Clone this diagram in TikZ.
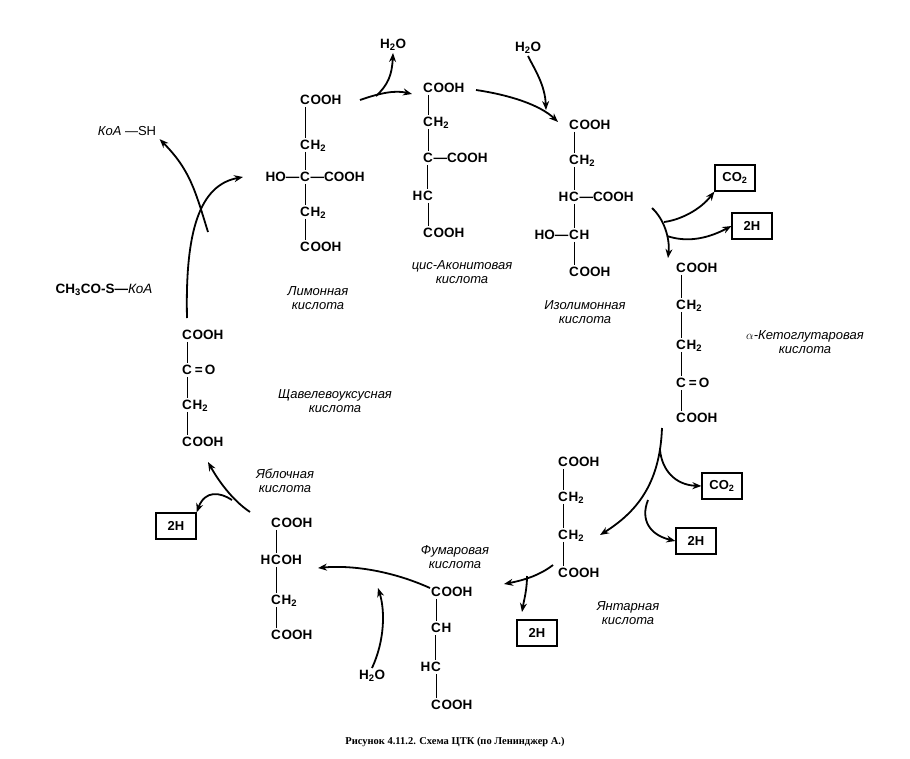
\documentclass[tikz,border=0pt]{standalone}
\usepackage{fontspec}
\setmainfont{Liberation Sans}
\newfontfamily\capf{Liberation Serif}
\usetikzlibrary{arrows.meta}
\begin{document}
\begin{tikzpicture}[x=1pt,y=-1pt,
 f/.style={font=\bfseries\fontsize{13.5}{14}\selectfont,inner xsep=0.3pt,inner ysep=2pt},
 nm/.style={font=\itshape\fontsize{13}{14}\selectfont,align=center},
 bond/.style={line width=0.9pt},
 ar/.style={line width=1.8pt,-{Stealth[length=9pt,width=7pt]}},
 box/.style={draw,line width=1.2pt,font=\bfseries\fontsize{13}{14}\selectfont,minimum width=40pt,minimum height=26pt}]
\useasboundingbox (0,0) rectangle (910,758);
\newcommand\bk[4]{\node[f] (#1) at (#2,#3) {C};\node[f,anchor=base west,inner sep=0pt] at (#1.base east) {#4};}
\newcommand\lt[2]{\node[f,anchor=base east,inner sep=0pt] at (#1.base west) {#2};}
% citrate
\bk{c1}{305}{100}{OOH}\bk{c2}{305}{145}{H\textsubscript2}\bk{c3}{305}{177}{—COOH}\lt{c3}{HO—}
\bk{c4}{305}{212}{H\textsubscript2}\bk{c5}{305}{247}{OOH}
\draw[bond] (c1)--(c2)--(c3)--(c4)--(c5);
\node[nm] (n1) at (318,298) {Лимонная\\кислота};
% aconitate
\bk{d1}{428}{88}{OOH}\bk{d2}{428}{122}{H\textsubscript2}\bk{d3}{428}{158}{—COOH}
\bk{d4}{428}{196}{}\lt{d4}{H}\bk{d5}{428}{233}{OOH}
\draw[bond] (d1)--(d2)--(d3);\draw[bond,double] (d3)--(d4);\draw[bond] (d4)--(d5);
\node[nm] (n2) at (462,272) {цис-Аконитовая\\кислота};
% isocitrate
\bk{e1}{574}{125}{OOH}\bk{e2}{574}{160}{H\textsubscript2}\bk{e3}{574}{197}{—COOH}\lt{e3}{H}
\bk{e4}{574}{235}{H}\lt{e4}{HO—}\bk{e5}{574}{272}{OOH}
\draw[bond] (e1)--(e2)--(e3)--(e4)--(e5);
\node[nm] (n3) at (585,312) {Изолимонная\\кислота};
% alpha-ketoglutarate
\bk{g1}{681}{268}{OOH}\bk{g2}{681}{305}{H\textsubscript2}\bk{g3}{681}{345}{H\textsubscript2}
\bk{g4}{681}{383}{\,=\,O}\bk{g5}{681}{418}{OOH}
\draw[bond] (g1)--(g2)--(g3)--(g4)--(g5);
\node[nm] (n4) at (805,342) {$\alpha$-Кетоглутаровая\\кислота};
% succinate
\bk{s1}{563}{462}{OOH}\bk{s2}{563}{497}{H\textsubscript2}\bk{s3}{563}{535}{H\textsubscript2}\bk{s4}{563}{573}{OOH}
\draw[bond] (s1)--(s2)--(s3)--(s4);
\node[nm] (n5) at (628,613) {Янтарная\\кислота};
% fumarate
\bk{u1}{436}{592}{OOH}\bk{u2}{436}{628}{H}\bk{u3}{436}{667}{}\lt{u3}{H}\bk{u4}{436}{705}{OOH}
\draw[bond] (u1)--(u2);\draw[bond,double] (u2)--(u3);\draw[bond] (u3)--(u4);
\node[nm] (n6) at (455,557) {Фумаровая\\кислота};
% malate
\bk{m1}{276}{523}{OOH}\bk{m2}{276}{560}{OH}\lt{m2}{H}\bk{m3}{276}{600}{H\textsubscript2}\bk{m4}{276}{635}{OOH}
\draw[bond] (m1)--(m2)--(m3)--(m4);
\node[nm] (n7) at (285,481) {Яблочная\\кислота};
% oxaloacetate
\bk{o1}{187}{335}{OOH}\bk{o2}{187}{370}{\,=\,O}\bk{o3}{187}{405}{H\textsubscript2}\bk{o4}{187}{442}{OOH}
\draw[bond] (o1)--(o2)--(o3)--(o4);
\node[nm] (n8) at (335,401) {Щавелевоуксусная\\кислота};
% others
\node[f] (acc) at (104,290) {CH\textsubscript3CO-S—\textit{\mdseries КоА}};
\node[font=\fontsize{13}{14}\selectfont] (ksh) at (127,131) {\textit{КоА} —SH};
\node[f] (w1) at (393,45) {H\textsubscript2O};
\node[f] (w2) at (528,48) {H\textsubscript2O};
\node[f] (w3) at (372,676) {H\textsubscript2O};
\node[box] (b1) at (735,178) {CO\textsubscript2};
\node[box] (b2) at (752,226) {2H};
\node[box] (b3) at (722,486) {CO\textsubscript2};
\node[box] (b4) at (696,541) {2H};
\node[box] (b5) at (537,633) {2H};
\node[box] (b6) at (176,526) {2H};
\node[font=\capf\bfseries\fontsize{10.5}{12}\selectfont] (cap) at (455,742) {Рисунок 4.11.2. Схема ЦТК (по Ленинджер А.)};
% arrows
\draw[ar] (187,318) .. controls (185,230) and (200,185) .. (243,177);
\draw[ar] (208,232) .. controls (195,190) and (190,170) .. (ksh.south east);
\draw[ar] (360,100) .. controls (380,93) and (395,90) .. (412,94);
\draw[ar] (376,96) .. controls (388,85) and (392,75) .. (w1.south);
\draw[ar] (476,90) .. controls (510,95) and (540,105) .. (558,122);
\draw[ar] (w2.south) .. controls (535,70) and (545,85) .. (546,110);
\draw[ar] (652,208) .. controls (665,220) and (670,240) .. (668,258);
\draw[ar] (664,222) .. controls (680,220) and (700,210) .. (b1.south west);
\draw[ar] (667,236) .. controls (685,242) and (705,240) .. (b2.west);
\draw[ar] (662,428) .. controls (660,480) and (640,510) .. (600,535);
\draw[ar] (660,450) .. controls (662,470) and (675,485) .. (b3.west);
\draw[ar] (648,500) .. controls (640,520) and (650,535) .. (b4.west);
\draw[ar] (553,565) .. controls (540,575) and (525,580) .. (504,584);
\draw[ar] (527,576) .. controls (527,590) and (524,600) .. (522,612);
\draw[ar] (430,588) .. controls (390,570) and (350,565) .. (318,568);
\draw[ar] (w3.north) .. controls (385,640) and (385,610) .. (378,588);
\draw[ar] (250,512) .. controls (232,500) and (218,480) .. (208,462);
\draw[ar] (232,500) .. controls (220,492) and (205,490) .. (b6.north east);
\end{tikzpicture}
\end{document}
